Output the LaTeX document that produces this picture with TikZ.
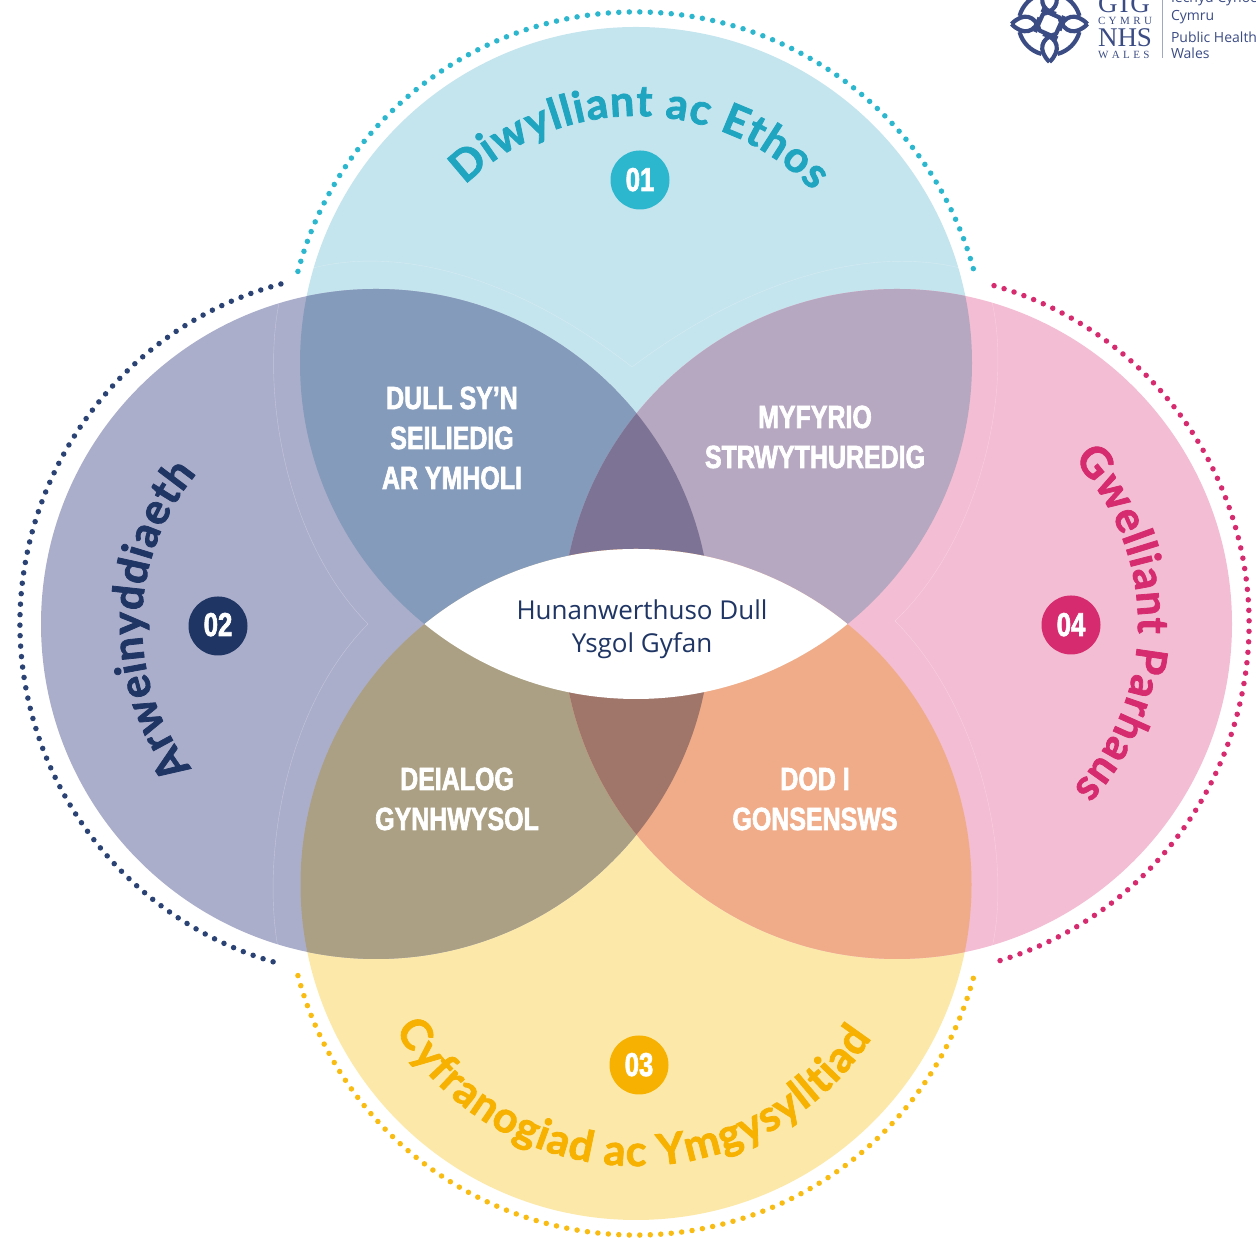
\documentclass[tikz,border=0pt]{standalone}
\usepackage{fontspec}
\usepackage{tikz}
\usetikzlibrary{decorations.text}
\setmainfont{Open Sans}
\newfontfamily\labelFont[FakeStretch=0.78,FakeBold=2,UprightFont={* Bold}]{Liberation Sans}
\newfontfamily\logoFont{Liberation Serif}
\newfontfamily\curveFont[FakeBold=1.8,UprightFont={* Bold}]{Lato}
\newcommand{\titleFont}{\curveFont\fontsize{43}{43}\selectfont}
\tikzset{
  dotArc/.style={line width=5.5pt,line cap=round,dash pattern=on 0pt off 10.5pt},
  faintLine/.style={draw=white,draw opacity=0.3,line width=0.4pt},
  labelText/.style={text=white,anchor=base,inner sep=0pt,outer sep=0pt,font=\labelFont\fontsize{32}{36}\selectfont},
  numberText/.style={text=white,anchor=base,inner sep=0pt,outer sep=0pt,font=\labelFont\fontsize{33}{36}\selectfont},
  centreText/.style={text=navyColor,anchor=base,inner sep=0pt,outer sep=0pt,font=\fontsize{26}{30}\selectfont},
  logoLine/.style={draw=logoColor,line width=4.2pt,line join=round},
  logoText/.style={text=logoColor,anchor=base west,inner sep=0pt,outer sep=0pt}
}
\begin{document}
\begin{tikzpicture}[x=1pt,y=1pt]
\definecolor{topFill}{HTML}{C4E4EE}
\definecolor{leftFill}{HTML}{ABAECB}
\definecolor{bottomFill}{HTML}{FCE9A9}
\definecolor{rightFill}{HTML}{F3BDD3}
\definecolor{topLeftFill}{HTML}{849BBB}
\definecolor{topRightFill}{HTML}{B7A8C1}
\definecolor{bottomLeftFill}{HTML}{ABA083}
\definecolor{bottomRightFill}{HTML}{F0AC89}
\definecolor{topMidFill}{HTML}{7D7395}
\definecolor{bottomMidFill}{HTML}{A0766B}
\definecolor{tealColor}{HTML}{2CB7CF}
\definecolor{tealText}{HTML}{1FA5C0}
\definecolor{navyColor}{HTML}{1F3564}
\definecolor{navyDots}{HTML}{2A4374}
\definecolor{amberColor}{HTML}{F7B100}
\definecolor{amberDots}{HTML}{F8BC13}
\definecolor{roseColor}{HTML}{D62B6E}
\definecolor{logoColor}{HTML}{3B4C84}
\definecolor{logoRule}{HTML}{A0A8C0}
\path[use as bounding box] (0,0) rectangle (1256,1238);

\path[fill=topFill] (636,875) circle (336);
\path[fill=bottomFill] (636,353.5) circle (335.5);
\path[fill=leftFill] (376,614) circle (335);
\path[fill=rightFill] (897,614) circle (335);

\begin{scope}
\path[clip] (636,875) circle (336);
\path[fill=topLeftFill] (376,614) circle (335);
\path[fill=topRightFill] (897,614) circle (335);
\path[clip] (376,614) circle (335);
\path[fill=topMidFill] (897,614) circle (335);
\end{scope}
\begin{scope}
\path[clip] (636,353.5) circle (335.5);
\path[fill=bottomLeftFill] (376,614) circle (335);
\path[fill=bottomRightFill] (897,614) circle (335);
\path[clip] (376,614) circle (335);
\path[fill=bottomMidFill] (897,614) circle (335);
\end{scope}
\begin{scope}
\path[clip] (636,875) circle (336);
\path[fill=white] (636,353.5) circle (335.5);
\end{scope}

% faint outlines
\path[faintLine] (279,935) .. controls (262,850) and (283,700) .. (368,614);
\path[faintLine] (368,614) .. controls (283,528) and (262,378) .. (278,290);
\path[faintLine] (992,936) .. controls (1012,850) and (982,700) .. (895,617);
\path[faintLine] (895,617) .. controls (982,530) and (1012,378) .. (992,290);
\path[faintLine] (313,970) .. controls (400,992) and (515,962) .. (632,871);
\path[faintLine] (632,871) .. controls (750,960) and (870,992) .. (960,970);

% dotted arcs
\path[dotArc,draw=tealColor] (636,876) ++(165:350) arc[start angle=165,end angle=15,radius=350];
\path[dotArc,draw=navyDots] (372,614) ++(105:352) arc[start angle=105,end angle=255,radius=352];
\path[dotArc,draw=amberDots] (636,353) ++(195:350) arc[start angle=195,end angle=345,radius=350];
\path[dotArc,draw=roseColor] (897,614) ++(74:352) arc[start angle=74,end angle=-74,radius=352];

% curved titles
\path[decorate,decoration={text along path,text align=fit to path,text color=tealText,
  text={|\titleFont|Diwylliant ac Ethos}}] (636,876) ++(134:246) arc[start angle=134,end angle=44,radius=246];
\path[decorate,decoration={text along path,text align=fit to path,text color=navyColor,
  text={|\titleFont|Arweinyddiaeth}}] (376,614) ++(218:234) arc[start angle=218,end angle=140,radius=234];
\path[decorate,decoration={text along path,text align=fit to path,text color=amberColor,
  text={|\titleFont|Cyfranogiad ac Ymgysylltiad}}] (636,353) ++(211:281) arc[start angle=211,end angle=327,radius=281];
\path[decorate,decoration={text along path,text align=fit to path,text color=roseColor,
  text={|\titleFont|Gwelliant Parhaus}}] (897,614) ++(43:241) arc[start angle=43,end angle=-43,radius=241];

% numbers
\path[fill=tealColor] (640,1058) circle (29.5);
\path[fill=navyColor] (218,612) circle (29.5);
\path[fill=amberColor] (639,173) circle (29.5);
\path[fill=roseColor] (1071,613) circle (29.5);
\node[numberText] (numTop) at (640,1047) {01};
\node[numberText] (numLeft) at (218,602) {02};
\node[numberText] (numBottom) at (639,162) {03};
\node[numberText] (numRight) at (1071,602) {04};

% labels
\node[labelText] (dullA) at (452,829) {DULL SY’N};
\node[labelText] (dullB) at (452,789) {SEILIEDIG};
\node[labelText] (dullC) at (452,749) {AR YMHOLI};
\node[labelText] (myfA) at (815,810) {MYFYRIO};
\node[labelText] (myfB) at (815,770) {STRWYTHUREDIG};
\node[labelText] (deiA) at (457,448) {DEIALOG};
\node[labelText] (deiB) at (457,408) {GYNHWYSOL};
\node[labelText] (dodA) at (815,448) {DOD I};
\node[labelText] (dodB) at (815,408) {GONSENSWS};
\node[centreText] (midA) at (642,618) {Hunanwerthuso Dull};
\node[centreText] (midB) at (642,585) {Ysgol Gyfan};

% logo
\begin{scope}
\path[clip] (0,0) rectangle (1256,1238);
\begin{scope}[rotate around={0:(1049.5,1214)}]
\path[logoLine] (1049.5,1176) .. controls (1038,1187) and (1040,1200) .. (1056,1204) -- (1064,1222);
\path[logoLine] (1049.5,1176) .. controls (1061,1187) and (1059,1200) .. (1043,1204);
\path[logoLine] (1049.5,1214) ++(-75:31) arc[start angle=-75,end angle=-15,radius=31];
\end{scope}
\begin{scope}[rotate around={90:(1049.5,1214)}]
\path[logoLine] (1049.5,1176) .. controls (1038,1187) and (1040,1200) .. (1056,1204) -- (1064,1222);
\path[logoLine] (1049.5,1176) .. controls (1061,1187) and (1059,1200) .. (1043,1204);
\path[logoLine] (1049.5,1214) ++(-75:31) arc[start angle=-75,end angle=-15,radius=31];
\end{scope}
\begin{scope}[rotate around={180:(1049.5,1214)}]
\path[logoLine] (1049.5,1176) .. controls (1038,1187) and (1040,1200) .. (1056,1204) -- (1064,1222);
\path[logoLine] (1049.5,1176) .. controls (1061,1187) and (1059,1200) .. (1043,1204);
\path[logoLine] (1049.5,1214) ++(-75:31) arc[start angle=-75,end angle=-15,radius=31];
\end{scope}
\begin{scope}[rotate around={270:(1049.5,1214)}]
\path[logoLine] (1049.5,1176) .. controls (1038,1187) and (1040,1200) .. (1056,1204) -- (1064,1222);
\path[logoLine] (1049.5,1176) .. controls (1061,1187) and (1059,1200) .. (1043,1204);
\path[logoLine] (1049.5,1214) ++(-75:31) arc[start angle=-75,end angle=-15,radius=31];
\end{scope}
\node[logoText,font=\logoFont\fontsize{27}{27}\selectfont] (logoGig) at (1098,1225) {G\kern2pt I\kern2pt G};
\node[logoText,font=\logoFont\fontsize{11}{11}\selectfont] (logoCymru) at (1098,1213) {C\kern3.4pt Y\kern3.4pt M\kern3.4pt R\kern3.4pt U};
\node[logoText,font=\logoFont\fontsize{27}{27}\selectfont] (logoNhs) at (1098,1191) {NHS};
\node[logoText,font=\logoFont\fontsize{11}{11}\selectfont] (logoWales) at (1098,1179) {W\kern3.4pt A\kern3.4pt L\kern3.4pt E\kern3.4pt S};
\path[draw=logoRule,line width=1pt] (1162,1238) -- (1162,1180);
\node[logoText,font=\fontsize{14}{14}\selectfont] (logoIechyd) at (1171,1235) {Iechyd Cyhoeddus};
\node[logoText,font=\fontsize{14}{14}\selectfont] (logoCym) at (1171,1217) {Cymru};
\node[logoText,font=\fontsize{14}{14}\selectfont] (logoPublic) at (1171,1195) {Public Health};
\node[logoText,font=\fontsize{14}{14}\selectfont] (logoWal) at (1171,1179) {Wales};
\end{scope}
\end{tikzpicture}
\end{document}
